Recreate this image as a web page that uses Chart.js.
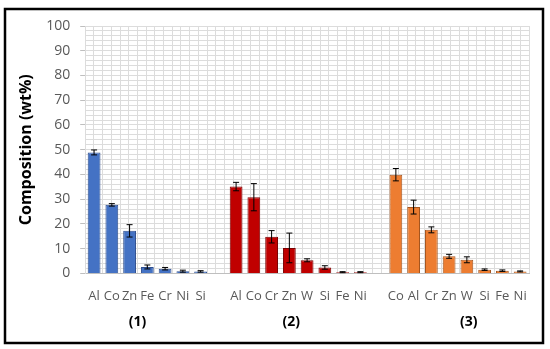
<!DOCTYPE html>
<html>
<head>
<meta charset="utf-8">
<script src="https://cdn.jsdelivr.net/npm/chart.js@4.4.0/dist/chart.umd.min.js"></script>
<style>
    body { margin: 0; background: #fff; }
    #wrap { width: 550px; height: 349px; }
</style>
</head>
<body>
<div id="wrap"><canvas id="chartCanvas" width="550" height="349"></canvas></div>
<script>
// sample (1)
const labels1 = ['Al', 'Co', 'Zn', 'Fe', 'Cr', 'Ni', 'Si'];
const values1 = [48.9, 27.7, 17.2, 2.6, 1.9, 0.9, 0.8];
const errors1 = [1.0, 0.5, 2.5, 0.8, 0.5, 0.4, 0.3];

// sample (2)
const labels2 = ['Al', 'Co', 'Cr', 'Zn', 'W', 'Si', 'Fe', 'Ni'];
const values2 = [35.1, 30.8, 14.8, 10.3, 5.3, 2.4, 0.5, 0.5];
const errors2 = [1.7, 5.5, 2.5, 6.0, 0.6, 0.7, 0.2, 0.2];

// sample (3)
const labels3 = ['Co', 'Al', 'Cr', 'Zn', 'W', 'Si', 'Fe', 'Ni'];
const values3 = [39.9, 26.8, 17.6, 6.9, 5.5, 1.5, 1.1, 0.8];
const errors3 = [2.5, 2.8, 1.2, 0.8, 1.2, 0.3, 0.3, 0.2];

const groupNames = ['(1)', '(2)', '(3)'];
// where each group name sits, in category units
const groupPos = [2.45, 11.1, 21.1];
const yTicks = [0, 10, 20, 30, 40, 50, 60, 70, 80, 90, 100];

const colors = ['#4472C4', '#C00000', '#ED7D31'];
const borders = ['#2F4F8F', '#7A0000', '#A5561F'];

// one blank category between the groups
const labels = [...labels1, '', ...labels2, '', ...labels3];
const values = [...values1, null, ...values2, null, ...values3];
const errors = [...errors1, null, ...errors2, null, ...errors3];
const groupOf = [...labels1.map(() => 0), -1, ...labels2.map(() => 1), -1, ...labels3.map(() => 2)];

const errorBars = {
    id: 'errorBars',
    afterDatasetsDraw(chart) {
        const ctx = chart.ctx;
        const y = chart.scales.y;
        const meta = chart.getDatasetMeta(0);
        ctx.save();
        ctx.strokeStyle = '#000';
        ctx.lineWidth = 1;
        meta.data.forEach((bar, i) => {
            if (values[i] == null) return;
            const top = y.getPixelForValue(values[i] + errors[i]);
            const bot = y.getPixelForValue(values[i] - errors[i]);
            ctx.beginPath();
            ctx.moveTo(bar.x, top);
            ctx.lineTo(bar.x, bot);
            ctx.moveTo(bar.x - 3, top);
            ctx.lineTo(bar.x + 3, top);
            ctx.moveTo(bar.x - 3, bot);
            ctx.lineTo(bar.x + 3, bot);
            ctx.stroke();
        });
        ctx.restore();
    }
};

const groupLabels = {
    id: 'groupLabels',
    afterDraw(chart) {
        const ctx = chart.ctx;
        const x = chart.scales.x;
        ctx.save();
        ctx.font = 'bold 14px "Open Sans"';
        ctx.fillStyle = '#000';
        ctx.textAlign = 'center';
        ctx.textBaseline = 'middle';
        groupNames.forEach((name, g) => {
            ctx.fillText(name, x.getPixelForValue(groupPos[g]), 322);
        });
        // frame round the picture
        ctx.strokeStyle = '#000';
        ctx.lineWidth = 2.5;
        ctx.strokeRect(5, 9, 538, 334);
        ctx.restore();
    }
};

new Chart(document.getElementById('chartCanvas'), {
    type: 'bar',
    data: {
        labels: labels,
        datasets: [{
            data: values,
            backgroundColor: groupOf.map(g => colors[Math.max(g, 0)]),
            borderColor: groupOf.map(g => borders[Math.max(g, 0)]),
            borderWidth: 1,
            barPercentage: 0.72,
            categoryPercentage: 1
        }]
    },
    options: {
        responsive: false,
        animation: false,
        layout: { padding: { left: 14, right: 21, top: 26, bottom: 38 } },
        plugins: {
            legend: { display: false },
            tooltip: { enabled: false }
        },
        scales: {
            x: {
                grid: { display: false },
                border: { color: '#bfbfbf' },
                ticks: {
                    autoSkip: false,
                    maxRotation: 0,
                    padding: 7,
                    color: '#595959',
                    font: { family: 'Open Sans', size: 13 }
                }
            },
            xg: {
                type: 'linear',
                position: 'top',
                min: -0.5,
                max: labels.length - 0.5,
                grid: { color: '#dcdcdc', drawTicks: false },
                border: { display: false },
                ticks: { display: false, stepSize: 0.5 }
            },
            y: {
                min: 0,
                max: 100,
                grid: {
                    color: '#dcdcdc',
                    tickLength: 5,
                    tickColor: c => yTicks.includes(c.tick.value) ? '#bfbfbf' : 'rgba(0,0,0,0)'
                },
                border: { color: '#dcdcdc' },
                ticks: {
                    stepSize: 2,
                    autoSkip: false,
                    padding: 10,
                    color: '#595959',
                    font: { family: 'Open Sans', size: 14 },
                    callback: v => yTicks.includes(v) ? String(v) : ''
                },
                title: {
                    display: true,
                    text: 'Composition (wt%)',
                    color: '#000',
                    font: { family: 'Open Sans', size: 16, weight: 'bold' },
                    padding: { top: 3, bottom: 0 }
                }
            }
        }
    },
    plugins: [errorBars, groupLabels]
});
</script>
</body>
</html>
